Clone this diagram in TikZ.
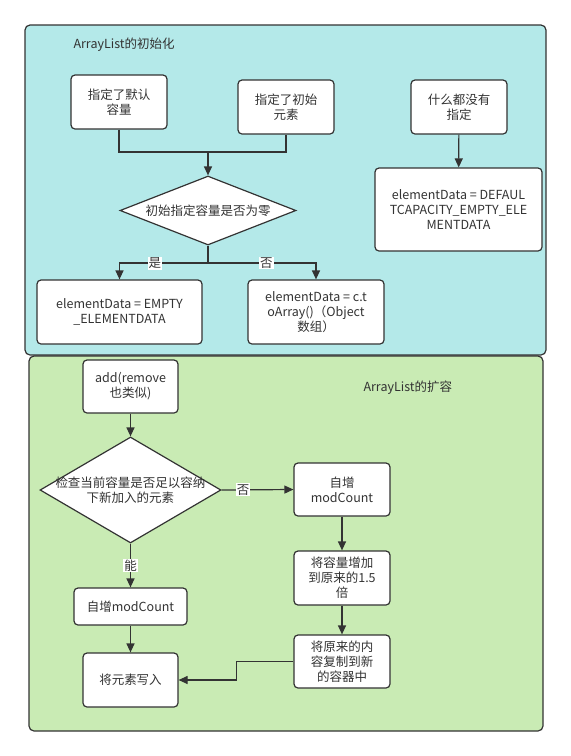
\documentclass[tikz,border=0pt]{standalone}
\usepackage{xcolor}
\usepackage{fontspec}
\setmainfont{Noto Sans CJK SC}
\usepackage{tikz}
\usetikzlibrary{shapes.geometric}
\usetikzlibrary{arrows.meta}
\definecolor{ink}{HTML}{333333}
\definecolor{initbg}{HTML}{B4E9E9}
\definecolor{growbg}{HTML}{C9EBB4}

\begin{document}
\begin{tikzpicture}[x=1pt, y=-1pt, font=\fontsize{12.5}{15}\selectfont, text=ink,
		box/.style={draw=ink, line width=1.2pt, fill=white, rounded corners=4pt, align=center, inner sep=2pt, minimum width=96pt, minimum height=54pt},
		decision/.style={draw=ink, line width=1.2pt, fill=white, diamond, inner sep=0pt},
		zone/.style={draw=ink, line width=1.2pt, rounded corners=5pt},
		arr/.style={draw=ink, line width=1.2pt, -{Triangle[length=9pt,width=8pt]}},
		link/.style={draw=ink, line width=1.2pt},
		tag/.style={fill=white, inner sep=1pt}]
			\useasboundingbox (0,0) rectangle (571,756);
			\draw [zone, fill=initbg] (25,25) rectangle (546,355);
			\draw [zone, fill=growbg] (29,356) rectangle (543,731);
			\node [anchor=west] (inittitle) at (70,45) {ArrayList的初始化};
			\node [anchor=west] (growtitle) at (360,388) {ArrayList的扩容};
			% initialisation
			\node [box] (def) at (119,102) {指定了默认\\容量};
			\node [box] (ini) at (286,107) {指定了初始\\元素};
			\node [box] (none) at (459,107) {什么都没有\\指定};
			\node [box, minimum width=167pt, minimum height=83pt] (dflt) at (458.5,209.5) {elementData = DEFAUL\\TCAPACITY\_EMPTY\_ELE\\MENTDATA};
			\node [decision, minimum width=176pt, minimum height=69pt, label={[align=center]center:初始指定容量是否为零}] (zero) at (208,210.5) {};
			\node [box, minimum width=165pt, minimum height=64pt] (empty) at (119.5,312) {elementData = EMPTY\\\_ELEMENTDATA};
			\node [box, minimum width=136pt, minimum height=64pt] (copyarr) at (316,312) {elementData = c.t\\oArray()（Object\\数组）};
			\coordinate (mrg) at (208,152);
			\coordinate (split) at (208,263);
			\draw [link] (def.south) |- (mrg) -| (ini.south);
			\draw [arr] (mrg) -- (zero.north);
			\draw [link] (zero.south) -- (split);
			\draw [arr] (split) -| node [tag, pos=0.3] {是} (empty.north);
			\draw [arr] (split) -| node [tag, pos=0.27] {否} (copyarr.north);
			\draw [arr] (none) -- (dflt);
			% growth
			\node [box, minimum width=95pt, minimum height=53pt] (add) at (130.5,386.5) {add(remove\\也类似)};
			\node [decision, minimum width=181pt, minimum height=106pt, label={[align=center]center:检查当前容量是否足以容纳\\下新加入的元素}] (chk) at (130.5,490) {};
			\node [box, minimum height=53pt] (inc) at (342,489.5) {自增\\modCount};
			\node [box] (grow) at (342,578) {将容量增加\\到原来的1.5\\倍};
			\node [box, minimum height=53pt] (copy) at (342,661.5) {将原来的内\\容复制到新\\的容器中};
			\node [box, minimum width=113pt, minimum height=37pt] (inc2) at (130.5,606.5) {自增modCount};
			\node [box, minimum width=95pt] (put) at (130.5,680) {将元素写入};
			\draw [arr] (add) -- (chk);
			\draw [arr] (chk.east) -- node [tag, pos=0.3] {否} (inc.west);
			\draw [arr] (chk.south) -- node [tag] {能} (inc2.north);
			\draw [arr] (inc) -- (grow);
			\draw [arr] (grow) -- (copy);
			\draw [arr] (inc2) -- (put);
			\draw [arr] (copy.west) -- ++(-57,0) |- (put.east);
		\end{tikzpicture}
\end{document}
